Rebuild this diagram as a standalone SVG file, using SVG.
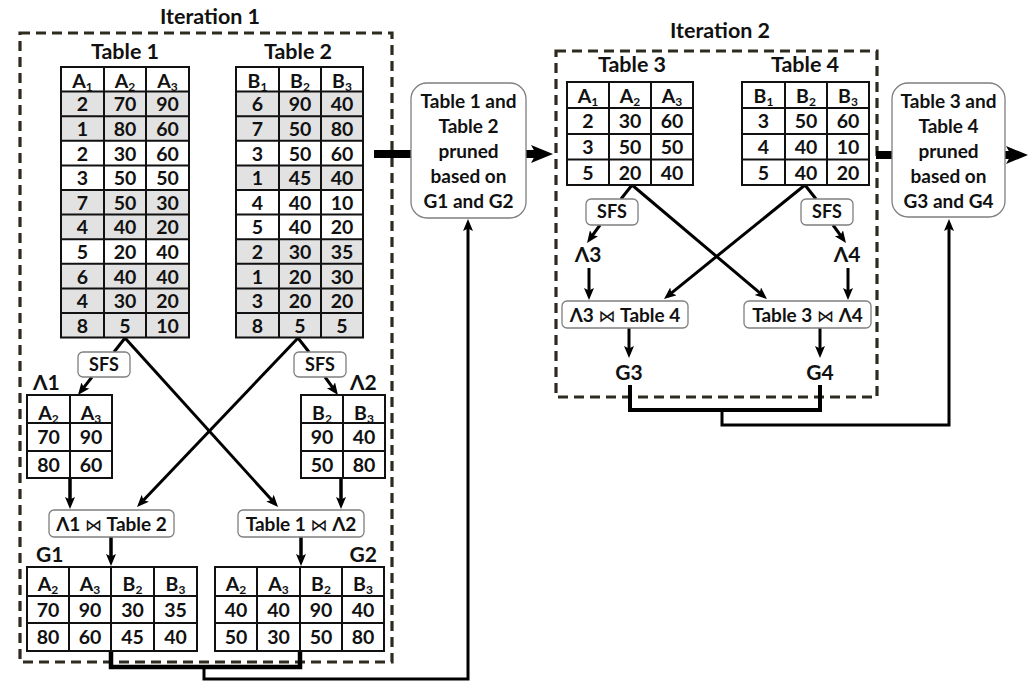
<svg xmlns="http://www.w3.org/2000/svg" width="1032" height="681" viewBox="0 0 1032 681">
<defs>
<style>
text{font-family:Lato,"DejaVu Sans",sans-serif;font-weight:bold;fill:#111}
.c{font-size:19.5px;text-anchor:middle}
.j{font-size:19px;text-anchor:middle}
.m{text-anchor:middle}
.sub{font-size:12px}
.title{font-size:21.5px;text-anchor:middle}
.lbl{font-size:21px}
.sfs{font-size:18px;text-anchor:middle}
.pr{font-size:19px;text-anchor:middle}
.grid{stroke:#111;stroke-width:2;fill:none}
.shade{fill:#e2e2e2}
.frame{fill:none;stroke:#2d2a1f;stroke-width:3.2;stroke-dasharray:10 6}
.op{fill:#fff;stroke:#7f7f7f;stroke-width:1.3}
.ln{stroke:#000;stroke-width:3;fill:none}
.arr{marker-end:url(#ah)}
.thick{stroke:#000;stroke-width:8;fill:none}
.bt{font-weight:normal;font-size:17px;font-family:"DejaVu Sans",sans-serif}
</style>
<marker id="ah" markerUnits="userSpaceOnUse" markerWidth="13" markerHeight="11" refX="3" refY="5" orient="auto"><path d="M0,0 L12,5 L0,10 L2.5,5 z" fill="#000"/></marker>
<marker id="big" markerUnits="userSpaceOnUse" markerWidth="24" markerHeight="20" refX="5" refY="9" orient="auto"><path d="M0,0 L22,9 L0,18 L5,9 z" fill="#000"/></marker>
</defs>
<rect width="1032" height="681" fill="#fff"/>

<!-- Iteration frames -->
<g id="iteration1">
<text class="title" x="210" y="24">Iteration 1</text>
<rect class="frame" x="20" y="33" width="372" height="629"/>
</g>
<g id="iteration2">
<text class="title" x="720" y="38">Iteration 2</text>
<rect class="frame" x="556" y="51" width="321" height="346"/>
</g>

<!-- Connectors -->
<g id="connectors">
<!-- iteration 1 -->
<path class="ln" d="M125,338 L114,352"/>
<path class="ln" d="M298,338 L309,352"/>
<path class="ln arr" d="M125,338 L272,500.3"/>
<path class="ln arr" d="M298,338 L143.2,500.5"/>
<path class="ln arr" d="M92,377 L83.5,387.9"/>
<path class="ln arr" d="M325,377 L332.7,387.7"/>
<path class="ln arr" d="M70,478 L70,500" style="stroke-width:3.5"/>
<path class="ln arr" d="M341,478 L341,500" style="stroke-width:3.5"/>
<path class="ln arr" d="M111,537 L111,557" style="stroke-width:3.5"/>
<path class="ln arr" d="M301,537 L301,557" style="stroke-width:3.5"/>
<path class="ln" d="M111,651 L111,667 L300,667 L300,651" style="stroke-width:4.5"/>
<path class="ln arr" d="M204,667 L204,679 L468,679 L468,228"/>
<path class="thick" d="M374,154 L411,154"/>
<path class="thick" d="M526,154 L536,154" marker-end="url(#big)"/>
<!-- iteration 2 -->
<path class="ln" d="M632,185 L621,199"/>
<path class="ln" d="M805,185 L816,199"/>
<path class="ln arr" d="M632,185 L760.1,293.2"/>
<path class="ln arr" d="M805,185 L671,293.3"/>
<path class="ln arr" d="M600,225 L592.3,235.7"/>
<path class="ln arr" d="M833,225 L840.7,235.7"/>
<path class="ln arr" d="M589,268 L589,291"/>
<path class="ln arr" d="M848,268 L848,291"/>
<path class="ln arr" d="M629,328 L629,349"/>
<path class="ln arr" d="M820,328 L820,349"/>
<path class="ln" d="M630,385 L630,410 L820,410 L820,385" style="stroke-width:4"/>
<path class="ln arr" d="M722,410 L722,425 L949,425 L949,228"/>
<path class="thick" d="M876,155 L892,155"/>
<path class="thick" d="M1005,155 L1011,155" marker-end="url(#big)"/>
</g>

<!-- Table 1 -->
<g id="table1">
<text class="title" x="125" y="59">Table 1</text>
<rect class="shade" x="61" y="91.6" width="128" height="49.2"/>
<rect class="shade" x="61" y="190" width="128" height="49.2"/>
<rect class="shade" x="61" y="263.8" width="128" height="73.8"/>
<path class="grid" d="M61,67H189V337.6H61Z M104,67V337.6 M146,67V337.6 M61,91.6H189 M61,116.2H189 M61,140.8H189 M61,165.4H189 M61,190H189 M61,214.6H189 M61,239.2H189 M61,263.8H189 M61,288.4H189 M61,313H189"/>
<text class="c" x="82.5" y="88">A<tspan class="sub" dy="3">1</tspan></text>
<text class="c" x="125" y="88">A<tspan class="sub" dy="3">2</tspan></text>
<text class="c" x="167.5" y="88">A<tspan class="sub" dy="3">3</tspan></text>
<text class="c" x="82.5" y="111.3">2</text><text class="c" x="125" y="111.3">70</text><text class="c" x="167.5" y="111.3">90</text>
<text class="c" x="82.5" y="135.9">1</text><text class="c" x="125" y="135.9">80</text><text class="c" x="167.5" y="135.9">60</text>
<text class="c" x="82.5" y="160.5">2</text><text class="c" x="125" y="160.5">30</text><text class="c" x="167.5" y="160.5">60</text>
<text class="c" x="82.5" y="185.1">3</text><text class="c" x="125" y="185.1">50</text><text class="c" x="167.5" y="185.1">50</text>
<text class="c" x="82.5" y="209.7">7</text><text class="c" x="125" y="209.7">50</text><text class="c" x="167.5" y="209.7">30</text>
<text class="c" x="82.5" y="234.3">4</text><text class="c" x="125" y="234.3">40</text><text class="c" x="167.5" y="234.3">20</text>
<text class="c" x="82.5" y="258.9">5</text><text class="c" x="125" y="258.9">20</text><text class="c" x="167.5" y="258.9">40</text>
<text class="c" x="82.5" y="283.5">6</text><text class="c" x="125" y="283.5">40</text><text class="c" x="167.5" y="283.5">40</text>
<text class="c" x="82.5" y="308.1">4</text><text class="c" x="125" y="308.1">30</text><text class="c" x="167.5" y="308.1">20</text>
<text class="c" x="82.5" y="332.7">8</text><text class="c" x="125" y="332.7">5</text><text class="c" x="167.5" y="332.7">10</text>
</g>

<!-- Table 2 -->
<g id="table2">
<text class="title" x="298" y="59">Table 2</text>
<rect class="shade" x="236" y="91.6" width="127" height="49.2"/>
<rect class="shade" x="236" y="165.4" width="127" height="24.6"/>
<rect class="shade" x="236" y="239.2" width="127" height="98.4"/>
<path class="grid" d="M236,67H363V337.6H236Z M279,67V337.6 M321,67V337.6 M236,91.6H363 M236,116.2H363 M236,140.8H363 M236,165.4H363 M236,190H363 M236,214.6H363 M236,239.2H363 M236,263.8H363 M236,288.4H363 M236,313H363"/>
<text class="c" x="257.5" y="88">B<tspan class="sub" dy="3">1</tspan></text>
<text class="c" x="300" y="88">B<tspan class="sub" dy="3">2</tspan></text>
<text class="c" x="342" y="88">B<tspan class="sub" dy="3">3</tspan></text>
<text class="c" x="257.5" y="111.3">6</text><text class="c" x="300" y="111.3">90</text><text class="c" x="342" y="111.3">40</text>
<text class="c" x="257.5" y="135.9">7</text><text class="c" x="300" y="135.9">50</text><text class="c" x="342" y="135.9">80</text>
<text class="c" x="257.5" y="160.5">3</text><text class="c" x="300" y="160.5">50</text><text class="c" x="342" y="160.5">60</text>
<text class="c" x="257.5" y="185.1">1</text><text class="c" x="300" y="185.1">45</text><text class="c" x="342" y="185.1">40</text>
<text class="c" x="257.5" y="209.7">4</text><text class="c" x="300" y="209.7">40</text><text class="c" x="342" y="209.7">10</text>
<text class="c" x="257.5" y="234.3">5</text><text class="c" x="300" y="234.3">40</text><text class="c" x="342" y="234.3">20</text>
<text class="c" x="257.5" y="258.9">2</text><text class="c" x="300" y="258.9">30</text><text class="c" x="342" y="258.9">35</text>
<text class="c" x="257.5" y="283.5">1</text><text class="c" x="300" y="283.5">20</text><text class="c" x="342" y="283.5">30</text>
<text class="c" x="257.5" y="308.1">3</text><text class="c" x="300" y="308.1">20</text><text class="c" x="342" y="308.1">20</text>
<text class="c" x="257.5" y="332.7">8</text><text class="c" x="300" y="332.7">5</text><text class="c" x="342" y="332.7">5</text>
</g>

<!-- SFS operators, iteration 1 -->
<g id="sfs1">
<rect class="op" x="78" y="352" width="52" height="25" rx="5"/>
<text class="sfs" x="104" y="371">SFS</text>
</g>
<g id="sfs2">
<rect class="op" x="294" y="352" width="52" height="25" rx="5"/>
<text class="sfs" x="320" y="371">SFS</text>
</g>

<!-- Lambda 1 -->
<g id="lambda1">
<text class="lbl" x="33" y="390">Λ1</text>
<path class="grid" d="M27,395H112V478H27Z M70,395V478 M27,423H112 M27,451H112"/>
<text class="c" x="48.5" y="420">A<tspan class="sub" dy="3">2</tspan></text>
<text class="c" x="91" y="420">A<tspan class="sub" dy="3">3</tspan></text>
<text class="c" x="48.5" y="443.5">70</text><text class="c" x="91" y="443.5">90</text>
<text class="c" x="48.5" y="471.5">80</text><text class="c" x="91" y="471.5">60</text>
</g>

<!-- Lambda 2 -->
<g id="lambda2">
<text class="lbl" x="350" y="390">Λ2</text>
<path class="grid" d="M301,395H385V478H301Z M343,395V478 M301,423H385 M301,451H385"/>
<text class="c" x="322" y="420">B<tspan class="sub" dy="3">2</tspan></text>
<text class="c" x="364" y="420">B<tspan class="sub" dy="3">3</tspan></text>
<text class="c" x="322" y="443.5">90</text><text class="c" x="364" y="443.5">40</text>
<text class="c" x="322" y="471.5">50</text><text class="c" x="364" y="471.5">80</text>
</g>

<!-- Join operators, iteration 1 -->
<g id="join1">
<rect class="op" x="49" y="510" width="125" height="27" rx="5"/>
<text class="j" x="111.5" y="531">Λ1 <tspan class="bt">⋈</tspan> Table 2</text>
</g>
<g id="join2">
<rect class="op" x="238" y="510" width="126" height="27" rx="5"/>
<text class="j" x="301" y="531">Table 1 <tspan class="bt">⋈</tspan> Λ2</text>
</g>

<!-- G1 -->
<g id="g1">
<text class="lbl" x="36" y="562">G1</text>
<path class="grid" d="M27,567H197V651H27Z M69,567V651 M111,567V651 M154,567V651 M27,596H197 M27,623H197"/>
<text class="c" x="48" y="591">A<tspan class="sub" dy="3">2</tspan></text>
<text class="c" x="90" y="591">A<tspan class="sub" dy="3">3</tspan></text>
<text class="c" x="132.5" y="591">B<tspan class="sub" dy="3">2</tspan></text>
<text class="c" x="175.5" y="591">B<tspan class="sub" dy="3">3</tspan></text>
<text class="c" x="48" y="616.5">70</text><text class="c" x="90" y="616.5">90</text><text class="c" x="132.5" y="616.5">30</text><text class="c" x="175.5" y="616.5">35</text>
<text class="c" x="48" y="643.5">80</text><text class="c" x="90" y="643.5">60</text><text class="c" x="132.5" y="643.5">45</text><text class="c" x="175.5" y="643.5">40</text>
</g>

<!-- G2 -->
<g id="g2">
<text class="lbl" x="377" y="562" style="text-anchor:end">G2</text>
<path class="grid" d="M215,567H384V651H215Z M257,567V651 M300,567V651 M342,567V651 M215,596H384 M215,623H384"/>
<text class="c" x="236" y="591">A<tspan class="sub" dy="3">2</tspan></text>
<text class="c" x="278.5" y="591">A<tspan class="sub" dy="3">3</tspan></text>
<text class="c" x="321" y="591">B<tspan class="sub" dy="3">2</tspan></text>
<text class="c" x="363" y="591">B<tspan class="sub" dy="3">3</tspan></text>
<text class="c" x="236" y="616.5">40</text><text class="c" x="278.5" y="616.5">40</text><text class="c" x="321" y="616.5">90</text><text class="c" x="363" y="616.5">40</text>
<text class="c" x="236" y="643.5">50</text><text class="c" x="278.5" y="643.5">30</text><text class="c" x="321" y="643.5">50</text><text class="c" x="363" y="643.5">80</text>
</g>

<!-- Pruning step 1 -->
<g id="prune1">
<rect class="op" x="411" y="83" width="115" height="135" rx="16"/>
<text class="pr" x="468.5" y="108">Table 1 and</text>
<text class="pr" x="468.5" y="133">Table 2</text>
<text class="pr" x="468.5" y="158">pruned</text>
<text class="pr" x="468.5" y="183">based on</text>
<text class="pr" x="468.5" y="208">G1 and G2</text>
</g>

<!-- Table 3 -->
<g id="table3">
<text class="title" x="632" y="72">Table 3</text>
<path class="grid" d="M567,82H693V185H567Z M609,82V185 M651,82V185 M567,108H693 M567,134H693 M567,159.5H693"/>
<text class="c" x="588" y="103">A<tspan class="sub" dy="3">1</tspan></text>
<text class="c" x="630" y="103">A<tspan class="sub" dy="3">2</tspan></text>
<text class="c" x="672" y="103">A<tspan class="sub" dy="3">3</tspan></text>
<text class="c" x="588" y="127.5">2</text><text class="c" x="630" y="127.5">30</text><text class="c" x="672" y="127.5">60</text>
<text class="c" x="588" y="153.5">3</text><text class="c" x="630" y="153.5">50</text><text class="c" x="672" y="153.5">50</text>
<text class="c" x="588" y="179.5">5</text><text class="c" x="630" y="179.5">20</text><text class="c" x="672" y="179.5">40</text>
</g>

<!-- Table 4 -->
<g id="table4">
<text class="title" x="805" y="72">Table 4</text>
<path class="grid" d="M742,82H869V185H742Z M785,82V185 M827,82V185 M742,108H869 M742,134H869 M742,159.5H869"/>
<text class="c" x="763.5" y="103">B<tspan class="sub" dy="3">1</tspan></text>
<text class="c" x="806" y="103">B<tspan class="sub" dy="3">2</tspan></text>
<text class="c" x="848" y="103">B<tspan class="sub" dy="3">3</tspan></text>
<text class="c" x="763.5" y="127.5">3</text><text class="c" x="806" y="127.5">50</text><text class="c" x="848" y="127.5">60</text>
<text class="c" x="763.5" y="153.5">4</text><text class="c" x="806" y="153.5">40</text><text class="c" x="848" y="153.5">10</text>
<text class="c" x="763.5" y="179.5">5</text><text class="c" x="806" y="179.5">40</text><text class="c" x="848" y="179.5">20</text>
</g>

<!-- SFS operators, iteration 2 -->
<g id="sfs3">
<rect class="op" x="586" y="199" width="52" height="26" rx="5"/>
<text class="sfs" x="612" y="218">SFS</text>
</g>
<g id="sfs4">
<rect class="op" x="801" y="199" width="52" height="26" rx="5"/>
<text class="sfs" x="827" y="218">SFS</text>
</g>

<g id="lambda3"><text class="lbl m" x="588" y="262">Λ3</text></g>
<g id="lambda4"><text class="lbl m" x="847" y="262">Λ4</text></g>

<!-- Join operators, iteration 2 -->
<g id="join3">
<rect class="op" x="562" y="301" width="126" height="27" rx="5"/>
<text class="j" x="625" y="322">Λ3 <tspan class="bt">⋈</tspan> Table 4</text>
</g>
<g id="join4">
<rect class="op" x="744" y="301" width="127" height="27" rx="5"/>
<text class="j" x="807.5" y="322">Table 3 <tspan class="bt">⋈</tspan> Λ4</text>
</g>

<g id="g3"><text class="lbl m" x="629" y="380">G3</text></g>
<g id="g4"><text class="lbl m" x="820" y="380">G4</text></g>

<!-- Pruning step 2 -->
<g id="prune2">
<rect class="op" x="892" y="83" width="113" height="134" rx="16"/>
<text class="pr" x="948.5" y="108">Table 3 and</text>
<text class="pr" x="948.5" y="133">Table 4</text>
<text class="pr" x="948.5" y="158">pruned</text>
<text class="pr" x="948.5" y="183">based on</text>
<text class="pr" x="948.5" y="208">G3 and G4</text>
</g>
</svg>
